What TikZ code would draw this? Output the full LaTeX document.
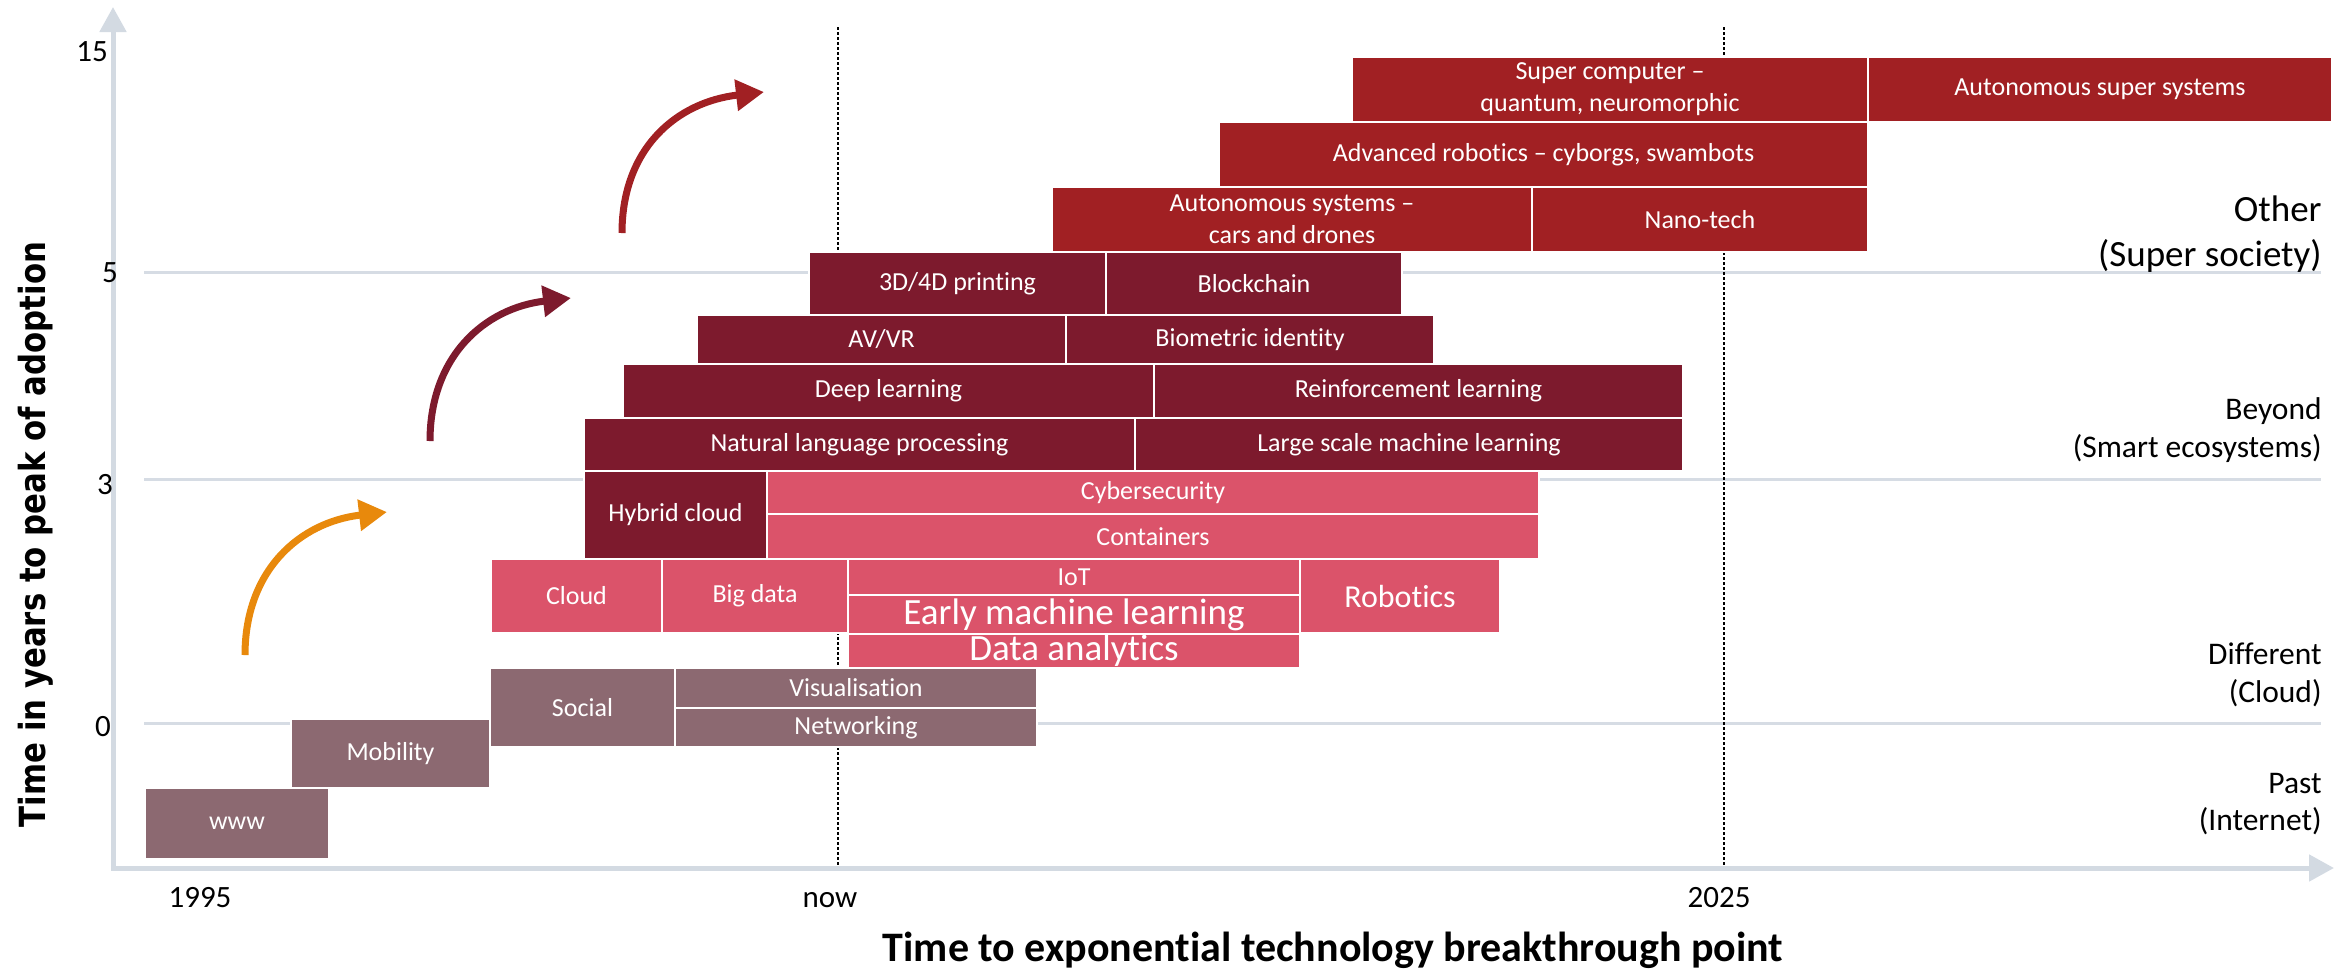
\documentclass[tikz,border=0pt]{standalone}
\usepackage{fontspec}
\usepackage{graphicx}
\setmainfont{Carlito}[Ligatures={TeX,NoCommon}]
\newfontfamily\ytitlefont{DejaVu Sans}
\usetikzlibrary{arrows.meta}
\definecolor{otherred}{HTML}{A12023}
\definecolor{beyondred}{HTML}{7D1A2D}
\definecolor{diffpink}{HTML}{DB536A}
\definecolor{pastmauve}{HTML}{8C6971}
\definecolor{axisgrey}{HTML}{D3DAE2}
\definecolor{gridgrey}{HTML}{D6DCE4}
\definecolor{arroworange}{HTML}{E8890C}
\newcommand\techbox[7]{%
  \pgfmathsetmacro\tbxc{(#3+#5)/2}%
  \pgfmathsetmacro\tbyc{(#4+#6)/2}%
  \pgfmathsetmacro\tbw{(#5-#3)*0.5}%
  \pgfmathsetmacro\tbh{(#6-#4)*0.5}%
  \node[techbase,#2,minimum width=\tbw pt,minimum height=\tbh pt] (#1) at (\tbxc,\tbyc) {#7};}
\begin{document}
\begin{tikzpicture}[x=0.5pt,y=-0.5pt,
  techbase/.style={draw=white,line width=1pt,inner sep=0pt,outer sep=0pt,text=white,align=center,font=\fontsize{13}{16}\selectfont},
  otherbox/.style={fill=otherred},
  beyondbox/.style={fill=beyondred},
  diffbox/.style={fill=diffpink},
  pastbox/.style={fill=pastmauve},
  bigtext/.style={font=\fontsize{18.5}{22}\selectfont},
  midtext/.style={font=\fontsize{16}{19}\selectfont},
  gridline/.style={draw=gridgrey,line width=1.5pt},
  axisline/.style={draw=axisgrey,line width=2.5pt,line join=miter,{Triangle[length=12.5pt,width=13pt]}-{Triangle[length=12.5pt,width=13pt]}},
  markerline/.style={draw=black,line width=1.25pt,dash pattern=on 1.25pt off 1.25pt},
  ticklabel/.style={font=\fontsize{15.5}{18}\selectfont,text=black,inner sep=0pt},
  eralabel/.style={anchor=east,align=right,inner sep=0pt,text=black},
  bendarrow/.style={line width=3.5pt,-{Triangle[length=14pt,width=15pt]}},
]
\useasboundingbox (0,0) rectangle (2349,976);

% grid lines
\coordinate (g5a) at (144,272); \coordinate (g5b) at (2321,272);
\coordinate (g3a) at (144,479); \coordinate (g3b) at (2321,479);
\coordinate (g0a) at (144,723); \coordinate (g0b) at (2321,723);
\draw[gridline] (g5a) -- (g5b);
\draw[gridline] (g3a) -- (g3b);
\draw[gridline] (g0a) -- (g0b);

% dotted markers
\coordinate (nowtop) at (838,27); \coordinate (nowbot) at (838,866);
\coordinate (ytop) at (1724,27); \coordinate (ybot) at (1724,866);
\draw[markerline] (nowtop) -- (nowbot);
\draw[markerline] (ytop) -- (ybot);

% axes
\coordinate (origin) at (113,868);
\coordinate (ytip) at (113,7);
\coordinate (xtip) at (2334,868);
\draw[axisline] (ytip) -- (origin) -- (xtip);

% Other (super society)
\techbox{supercomp}{otherbox}{1352}{57}{1868}{122}{Super computer –\\quantum, neuromorphic}
\techbox{autosuper}{otherbox}{1868}{57}{2332}{122}{Autonomous super systems}
\techbox{advrobot}{otherbox}{1219}{122}{1868}{187}{Advanced robotics – cyborgs, swambots}
\techbox{autosys}{otherbox}{1052}{187}{1532}{252}{Autonomous systems –\\cars and drones}
\techbox{nanotech}{otherbox}{1532}{187}{1868}{252}{Nano-tech}

% Beyond (smart ecosystems)
\techbox{printing}{beyondbox}{809}{252}{1106}{315}{3D/4D printing}
\techbox{blockchain}{beyondbox}{1106}{252}{1402}{315}{Blockchain}
\techbox{avvr}{beyondbox}{697}{315}{1066}{364}{AV/VR}
\techbox{biometric}{beyondbox}{1066}{315}{1434}{364}{Biometric identity}
\techbox{deeplearn}{beyondbox}{623}{364}{1154}{418}{Deep learning}
\techbox{reinforce}{beyondbox}{1154}{364}{1683}{418}{Reinforcement learning}
\techbox{nlp}{beyondbox}{584}{418}{1135}{471}{Natural language processing}
\techbox{largeml}{beyondbox}{1135}{418}{1683}{471}{Large scale machine learning}
\techbox{hybrid}{beyondbox}{584}{471}{767}{559}{Hybrid cloud}

% Different (cloud)
\techbox{cyber}{diffbox}{767}{471}{1539}{514}{Cybersecurity}
\techbox{containers}{diffbox}{767}{514}{1539}{559}{Containers}
\techbox{cloud}{diffbox}{491}{559}{662}{633}{Cloud}
\techbox{bigdata}{diffbox}{662}{559}{848}{633}{Big data}
\techbox{iot}{diffbox}{848}{559}{1300}{595}{IoT}
\techbox{earlyml}{diffbox,bigtext}{848}{595}{1300}{634}{Early machine learning}
\techbox{robotics}{diffbox,midtext}{1300}{559}{1500}{633}{Robotics}
\techbox{dataanalytics}{diffbox,bigtext}{848}{634}{1300}{668}{Data analytics}

% Past (internet)
\techbox{social}{pastbox}{490}{668}{675}{747}{Social}
\techbox{visual}{pastbox}{675}{668}{1037}{708}{Visualisation}
\techbox{network}{pastbox}{675}{708}{1037}{747}{Networking}
\techbox{mobility}{pastbox}{291}{719}{490}{788}{Mobility}
\techbox{www}{pastbox}{145}{788}{329}{859}{www}

% curved arrows
\coordinate (oarrA) at (245,655); \coordinate (oarrB) at (387,512);
\coordinate (marrA) at (430,441); \coordinate (marrB) at (571,298);
\coordinate (tarrA) at (622,233); \coordinate (tarrB) at (764,92);
\draw[bendarrow,color=arroworange] (oarrA) .. controls (245,570) and (300,522) .. (oarrB);
\draw[bendarrow,color=beyondred] (marrA) .. controls (430,356) and (485,308) .. (marrB);
\draw[bendarrow,color=otherred] (tarrA) .. controls (622,148) and (677,102) .. (tarrB);

% tick labels
\node[ticklabel] (y15) at (92,52) {15};
\node[ticklabel] (y5) at (110,273) {5};
\node[ticklabel] (y3) at (105,485) {3};
\node[ticklabel] (y0) at (103,727) {0};
\node[ticklabel,anchor=base] (t1995) at (200,907) {1995};
\node[ticklabel,anchor=base] (tnow) at (830,907) {now};
\node[ticklabel,anchor=base] (t2025) at (1719,907) {2025};

% era labels
\node[eralabel,font=\fontsize{18.5}{22.5}\selectfont] (eraother) at (2322,234.5) {Other\\(Super society)};
\node[eralabel,font=\fontsize{15.75}{19}\selectfont] (erabeyond) at (2322,430) {Beyond\\(Smart ecosystems)};
\node[eralabel,font=\fontsize{15.75}{19}\selectfont] (eradiff) at (2322,674.5) {Different\\(Cloud)};
\node[eralabel,font=\fontsize{15.75}{18.5}\selectfont] (erapast) at (2322,804.5) {Past\\(Internet)};

% axis titles
\node[anchor=base,inner sep=0pt,text=black,font=\bfseries\fontsize{21}{25}\selectfont] (xtitle) at (1333,961) {Time to exponential technology breakthrough point};
\node[rotate=90,anchor=base,inner sep=0pt,text=black,font=\ytitlefont\bfseries\fontsize{18}{20}\selectfont] (ytitle) at (45,534.5) {\scalebox{0.855}[1]{Time in years to peak of adoption}};
\end{tikzpicture}
\end{document}
